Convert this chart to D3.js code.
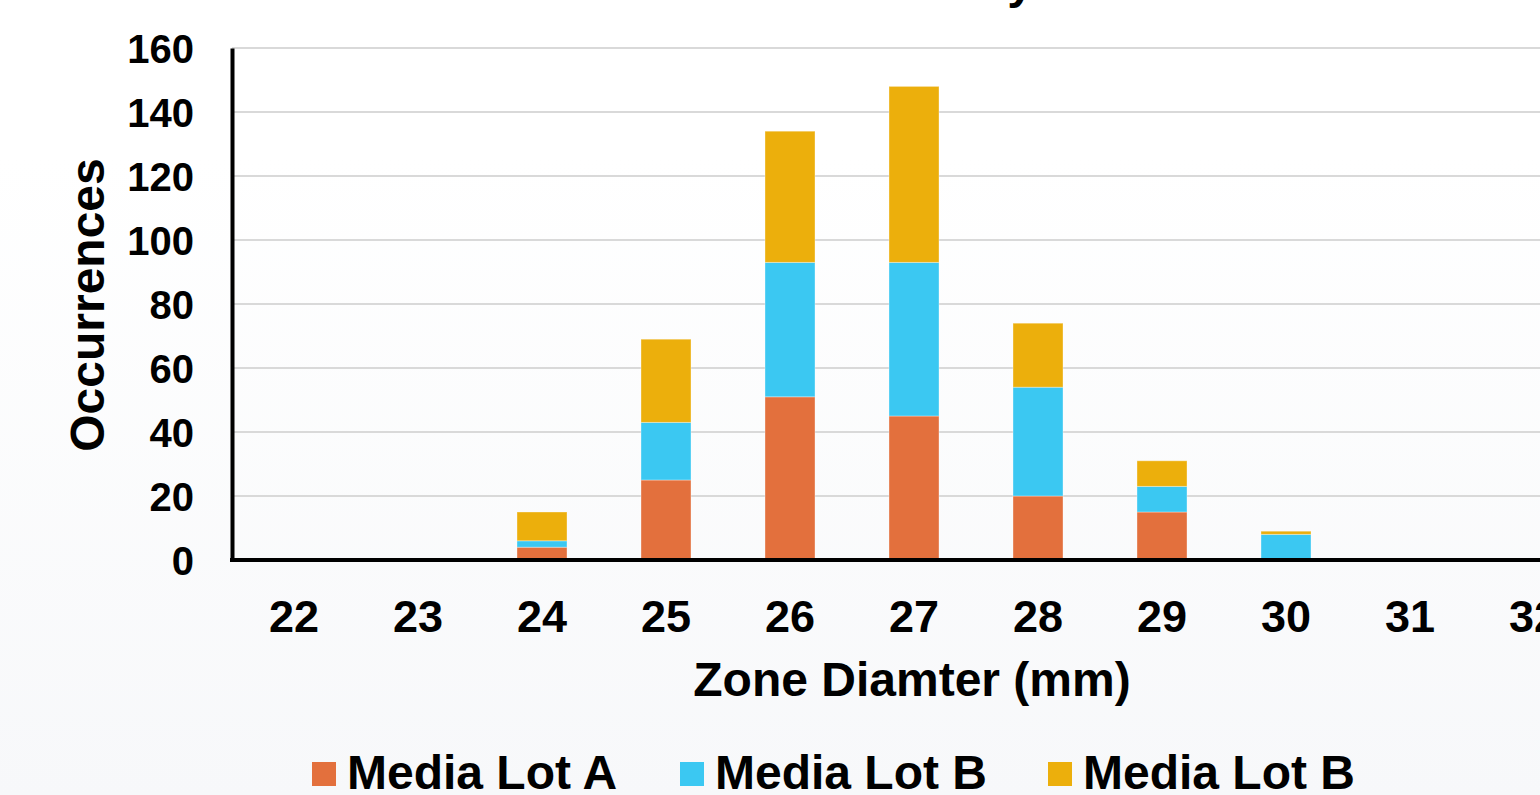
<!DOCTYPE html>
<html>
<head>
<meta charset="utf-8">
<script src="https://cdn.jsdelivr.net/npm/d3@7"></script>
<style>
    html, body { margin: 0; padding: 0; overflow: hidden; }
    svg { display: block; font-family: "Liberation Sans", Arial, sans-serif; font-weight: bold; }
</style>
</head>
<body>
<div id="viz_zone"></div>
<script>
// data
const zone_sizes = [22, 23, 24, 25, 26, 27, 28, 29, 30, 31, 32]
const lot_a = [0, 0, 4, 25, 51, 45, 20, 15, 0, 0, 0]
const lot_b = [0, 0, 2, 18, 42, 48, 34, 8, 8, 0, 0]
const lot_c = [0, 0, 9, 26, 41, 55, 20, 8, 1, 0, 0]
const series_names = ['Media Lot A', 'Media Lot B', 'Media Lot B']
const series_colors = ['#e3703d', '#3bc8f2', '#ecaf0c']
const y_ticks = [0, 20, 40, 60, 80, 100, 120, 140, 160]

const width = 1540
const height = 795
const margin = {left: 232, top: 48, bottom: 235}
const step = 124
const bar_width = 50

var svg = d3.select('#viz_zone')
    .append('svg')
        .attr('width', width)
        .attr('height', height);

// background
var defs = svg.append('defs');
var grad = defs.append('linearGradient')
    .attr('id', 'bg_grad')
    .attr('x1', 0).attr('y1', 0)
    .attr('x2', 0).attr('y2', 1);
grad.append('stop').attr('offset', '0.2').attr('stop-color', '#ffffff');
grad.append('stop').attr('offset', '1').attr('stop-color', '#f7f8fa');
svg.append('rect')
    .attr('width', width)
    .attr('height', height)
    .attr('fill', 'url(#bg_grad)');

// title (mostly above the visible area)
svg.append('text')
    .attr('x', 1034)
    .attr('y', -2)
    .attr('text-anchor', 'end')
    .style('font-size', '48px')
    .text('Zone Diameter Study');

const plot_bottom = height - margin.bottom

// scales
const x = d3.scaleBand()
    .domain(zone_sizes)
    .range([margin.left, margin.left + step * zone_sizes.length])
    .padding(0);

const y = d3.scaleLinear()
    .domain([0, 160])
    .range([plot_bottom, margin.top]);

// grid
svg.append('g')
    .selectAll('line')
    .data(y_ticks.filter(d => d > 0))
    .join('line')
        .attr('x1', margin.left)
        .attr('x2', width)
        .attr('y1', d => y(d))
        .attr('y2', d => y(d))
        .attr('stroke', '#d9d9d9')
        .attr('stroke-width', 2);

// stacked bars
const rows = zone_sizes.map((z, i) => ({zone: z, a: lot_a[i], b: lot_b[i], c: lot_c[i]}));
const stacked = d3.stack().keys(['a', 'b', 'c'])(rows);

svg.append('g')
    .selectAll('g')
    .data(stacked)
    .join('g')
        .attr('fill', (d, i) => series_colors[i])
    .selectAll('rect')
    .data(d => d.filter(v => v[1] > v[0]))
    .join('rect')
        .attr('x', d => x(d.data.zone) + (step - bar_width) / 2)
        .attr('y', d => y(d[1]))
        .attr('width', bar_width)
        .attr('height', d => y(d[0]) - y(d[1]))
        .attr('stroke', 'rgba(255,255,255,0.35)')
        .attr('stroke-width', 1);

// y axis
const y_axis = svg.append('g')
    .attr('transform', `translate(${margin.left}, 0)`)
    .call(d3.axisLeft(y)
            .tickValues(y_ticks)
            .tickSize(0)
            .tickPadding(38));
y_axis.select('.domain')
    .attr('stroke', 'black')
    .attr('stroke-width', 4);
y_axis.selectAll('text')
    .attr('fill', 'black')
    .attr('dy', '0.35em')
    .style('font-size', '40px')
    .style('font-family', '"Liberation Sans", Arial, sans-serif')
    .style('font-weight', 'bold');

// x axis
const x_axis = svg.append('g')
    .attr('transform', `translate(0, ${plot_bottom})`)
    .call(d3.axisBottom(x)
            .tickSize(0)
            .tickPadding(40));
x_axis.select('.domain')
    .attr('d', `M${margin.left - 2},0H${width}`)
    .attr('stroke', 'black')
    .attr('stroke-width', 4);
x_axis.selectAll('text')
    .attr('fill', 'black')
    .style('font-size', '45px')
    .style('font-family', '"Liberation Sans", Arial, sans-serif')
    .style('font-weight', 'bold');

// axis titles
svg.append('text')
    .attr('x', 912)
    .attr('y', 696)
    .attr('text-anchor', 'middle')
    .style('font-size', '48px')
    .text('Zone Diamter (mm)');

svg.append('text')
    .attr('transform', 'translate(104, 305) rotate(-90)')
    .attr('text-anchor', 'middle')
    .style('font-size', '48px')
    .text('Occurrences');

// legend
const legend = svg.append('g')
    .selectAll('g')
    .data(series_names)
    .join('g')
        .attr('transform', (d, i) => `translate(${312 + i * 368}, 0)`);
legend.append('rect')
    .attr('x', 0)
    .attr('y', 762)
    .attr('width', 24)
    .attr('height', 24)
    .attr('fill', (d, i) => series_colors[i]);
legend.append('text')
    .attr('x', 35)
    .attr('y', 789)
    .style('font-size', '48px')
    .text(d => d);
</script>
</body>
</html>
